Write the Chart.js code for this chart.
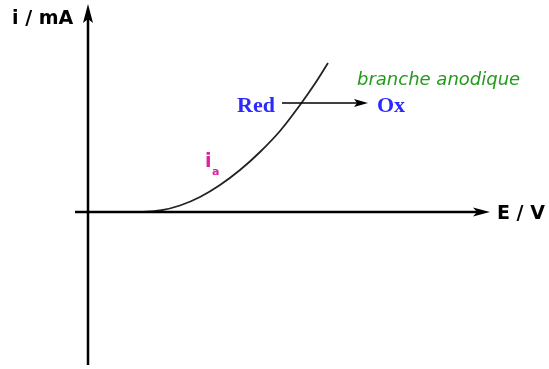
<!DOCTYPE html>
<html>
<head>
<meta charset="utf-8">
<script src="https://cdn.jsdelivr.net/npm/chart.js@4/dist/chart.umd.min.js"></script>
<style>
  html, body { margin: 0; padding: 0; background: #fff; }
  #wrap { width: 549px; height: 369px; position: relative; }
</style>
</head>
<body>
<div id="wrap"><canvas id="courbe"></canvas></div>
<script>
// branche anodique : i (mA) en fonction de E (V), unités arbitraires
const potentiel = [5.2, 7.2, 9.2, 11.2, 13.2, 15.2, 17.2, 19.2, 21.2, 22.6, 24.0];
const courant = [0, 0.15, 0.65, 1.5, 2.7, 4.2, 6.0, 8.1, 10.7, 12.7, 14.9];

const axisTitles = { x: 'E / V', y: 'i / mA' };
const brancheLabel = 'branche anodique';
const couple = ['Red', 'Ox'];

// axes fléchés + annotations
const dessin = {
  id: 'dessin',
  afterDatasetsDraw(chart) {
    const ctx = chart.ctx;
    const { x, y } = chart.scales;
    const area = chart.chartArea;
    const x0 = Math.round(x.getPixelForValue(0));
    const y0 = Math.round(y.getPixelForValue(0));
    ctx.save();
    ctx.strokeStyle = '#000';
    ctx.fillStyle = '#000';
    ctx.lineWidth = 2.5;

    // axe vertical
    ctx.beginPath();
    ctx.moveTo(x0, area.bottom);
    ctx.lineTo(x0, area.top + 14);
    ctx.stroke();
    ctx.beginPath();
    ctx.moveTo(x0, area.top);
    ctx.lineTo(x0 + 5, area.top + 19);
    ctx.lineTo(x0, area.top + 15);
    ctx.lineTo(x0 - 5, area.top + 19);
    ctx.closePath();
    ctx.fill();

    // axe horizontal
    ctx.beginPath();
    ctx.moveTo(area.left, y0);
    ctx.lineTo(area.right - 12, y0);
    ctx.stroke();
    ctx.beginPath();
    ctx.moveTo(area.right, y0);
    ctx.lineTo(area.right - 17, y0 - 4.5);
    ctx.lineTo(area.right - 13, y0);
    ctx.lineTo(area.right - 17, y0 + 4.5);
    ctx.closePath();
    ctx.fill();

    // titres des axes
    ctx.font = 'bold 19px "DejaVu Sans"';
    ctx.textBaseline = 'alphabetic';
    ctx.textAlign = 'left';
    ctx.fillText(axisTitles.y, 12, 24);
    ctx.fillText(axisTitles.x, area.right + 7, y0 + 7);

    // Red -> Ox
    const ya = y.getPixelForValue(10.9);
    ctx.lineWidth = 1.3;
    ctx.beginPath();
    ctx.moveTo(282, ya);
    ctx.lineTo(358, ya);
    ctx.stroke();
    ctx.beginPath();
    ctx.moveTo(368, ya);
    ctx.lineTo(354, ya - 4);
    ctx.lineTo(357, ya);
    ctx.lineTo(354, ya + 4);
    ctx.closePath();
    ctx.fill();

    ctx.fillStyle = '#2a2aff';
    ctx.font = 'bold 22px "Liberation Serif"';
    ctx.fillText(couple[0], 237, ya + 9);
    ctx.fillText(couple[1], 377, ya + 9);

    ctx.fillStyle = '#249a1c';
    ctx.font = 'italic 18px "DejaVu Sans"';
    ctx.fillText(brancheLabel, 357, 85);

    // i_a
    ctx.fillStyle = '#e0209c';
    ctx.font = 'bold 19px "DejaVu Sans"';
    ctx.fillText('i', 205, 167);
    ctx.font = 'bold 11px "DejaVu Sans"';
    ctx.fillText('a', 212, 175);
    ctx.restore();
  }
};

new Chart(document.getElementById('courbe'), {
  type: 'scatter',
  data: {
    datasets: [{
      data: potentiel.map((e, k) => ({ x: e, y: courant[k] })),
      showLine: true,
      borderColor: '#222',
      borderWidth: 1.8,
      pointRadius: 0,
      cubicInterpolationMode: 'monotone',
      fill: false
    }]
  },
  options: {
    responsive: true,
    maintainAspectRatio: false,
    animation: false,
    layout: { padding: { left: 75, right: 59, top: 4, bottom: 4 } },
    plugins: { legend: { display: false }, tooltip: { enabled: false } },
    scales: {
      x: { type: 'linear', display: false, min: -1.3, max: 40.2 },
      y: { type: 'linear', display: false, min: -15.3, max: 20.8 }
    }
  },
  plugins: [dessin]
});
</script>
</body>
</html>
